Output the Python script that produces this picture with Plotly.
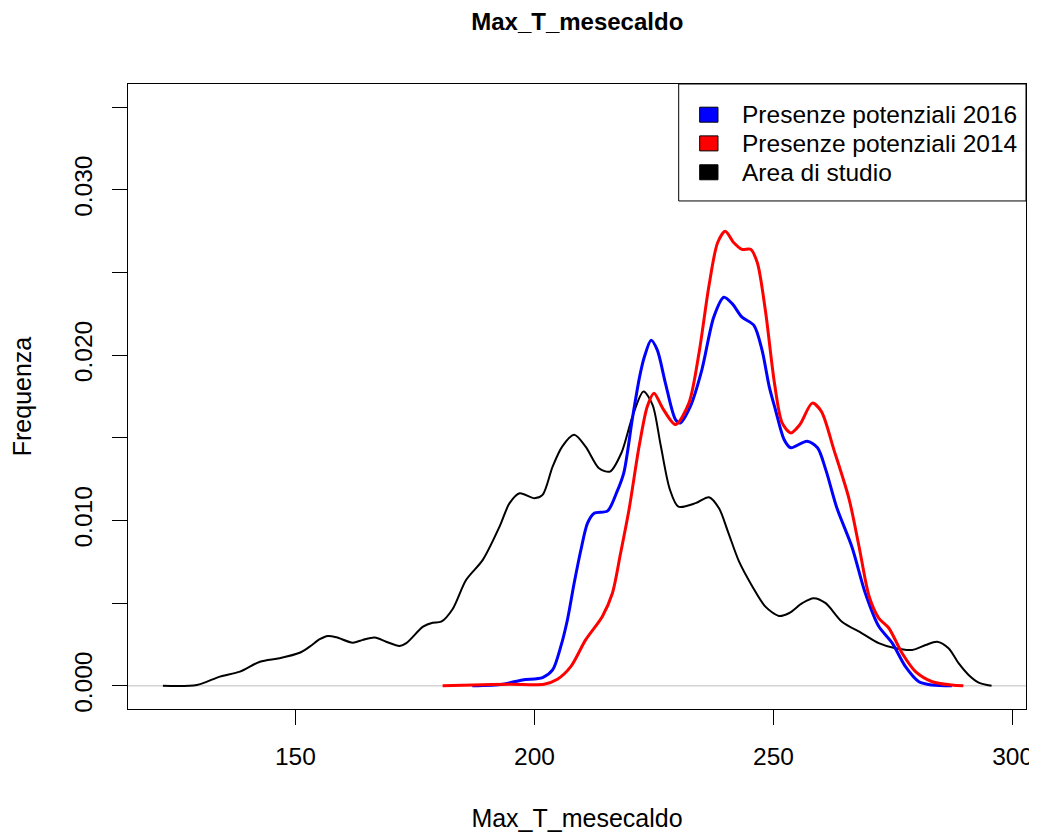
import plotly.graph_objects as go

# ---------------- data ----------------
area_x = [122.3, 129.4, 134.2, 138.4, 142.6, 146.7, 150.9, 153.0, 155.1, 156.8, 158.6, 162.0,
          164.1, 166.6, 169.0, 171.8, 173.2, 176.7, 178.7, 180.5, 182.9, 185.7, 189.2, 192.7,
          194.8, 196.9, 200.0, 201.7, 203.8, 205.8, 208.3, 210.7, 213.5, 215.8, 218.2, 220.5,
          222.8, 224.7, 226.4, 228.3, 230.1, 233.7, 236.5, 238.6, 240.5, 242.8, 245.6, 248.3,
          251.1, 253.2, 256.0, 258.4, 260.9, 264.3, 268.5, 272.0, 275.5, 279.0, 281.8, 284.2,
          286.6, 288.7, 290.8, 292.9, 295.6]
area_y = [0.0, 0.00005, 0.00056, 0.00086, 0.00146, 0.00167, 0.0020, 0.00237, 0.00282, 0.00302,
          0.00294, 0.00261, 0.00278, 0.00292, 0.00267, 0.00241, 0.00258, 0.00358, 0.00382, 0.00388,
          0.00465, 0.0064, 0.00762, 0.00963, 0.01105, 0.01165, 0.01135, 0.01155, 0.01326, 0.01447,
          0.01518, 0.01447, 0.01316, 0.01296, 0.0141, 0.01629, 0.0178, 0.0170, 0.01455, 0.0119,
          0.01084, 0.01105, 0.01141, 0.01074, 0.0093, 0.00751, 0.0060, 0.00479, 0.00423, 0.00439,
          0.0050, 0.0053, 0.0050, 0.00388, 0.00318, 0.00258, 0.00227, 0.00217, 0.00247, 0.00267,
          0.00227, 0.00137, 0.00066, 0.0002, 0.0]

p2016_x = [187.0, 193.4, 197.5, 201.7, 203.8, 205.5, 206.9, 208.3, 209.7, 211.1, 212.5, 215.3,
           217.2, 218.7, 220.5, 222.0, 223.0, 224.4, 225.7, 227.4, 229.5, 230.5, 232.6, 235.0,
           237.5, 239.6, 241.4, 243.4, 245.9, 247.6, 249.1, 250.4, 252.2, 253.6, 257.0, 259.2,
           261.0, 263.2, 266.4, 269.2, 272.0, 274.8, 277.6, 280.4, 283.2, 287.3]
p2016_y = [0.0, 0.0001, 0.00036, 0.0005, 0.00096, 0.00237, 0.0040, 0.0062, 0.0082, 0.00984,
           0.01044, 0.01058, 0.0117, 0.0129, 0.0162, 0.0187, 0.0199, 0.0209, 0.0203, 0.0183,
           0.0161, 0.0159, 0.0169, 0.0191, 0.0223, 0.0235, 0.0231, 0.0223, 0.0218, 0.0203,
           0.0181, 0.0167, 0.0149, 0.0144, 0.0148, 0.0144, 0.0130, 0.0108, 0.0084, 0.0056,
           0.0036, 0.0026, 0.00116, 0.00025, 0.00005, 0.0]

p2014_x = [180.8, 187.1, 195.0, 202.0, 204.8, 207.6, 210.7, 214.2, 216.3, 218.0, 219.8, 221.9,
           223.6, 225.0, 226.8, 229.5, 232.3, 234.4, 236.5, 238.3, 239.9, 241.7, 243.4, 245.2,
           246.6, 248.3, 250.2, 251.8, 253.6, 255.5, 258.1, 260.0, 262.6, 265.8, 267.9, 270.0,
           272.0, 274.1, 276.9, 279.7, 283.2, 287.3, 289.7]
p2014_y = [0.0, 0.00005, 0.0001, 0.0001, 0.0004, 0.00116, 0.00278, 0.0042, 0.0056, 0.0080,
           0.0107, 0.0145, 0.0169, 0.0177, 0.0168, 0.0158, 0.0171, 0.0201, 0.0242, 0.0268,
           0.0275, 0.0268, 0.0264, 0.0264, 0.0256, 0.0227, 0.0183, 0.0159, 0.0153, 0.0158,
           0.0171, 0.0166, 0.0143, 0.0113, 0.0084, 0.0054, 0.0041, 0.0035, 0.00197, 0.00086,
           0.00025, 0.00005, 0.0]

x_ticks = [150, 200, 250, 300]
y_ticks = [0.0, 0.005, 0.010, 0.015, 0.020, 0.025, 0.030, 0.035]
y_tick_text = ["0.000", "", "0.010", "", "0.020", "", "0.030", ""]

legend_labels = ["Presenze potenziali 2016", "Presenze potenziali 2014", "Area di studio"]
legend_colors = ["#0000FF", "#FF0000", "#000000"]

FONT = "Liberation Sans, Arial, sans-serif"

# page offset (default body margin of the html page)
OFF = 8
FIG_W, FIG_H = 1037 - OFF, 832 - OFF

# plot-area edges in window pixels
L, R_, T, B = 128.0, 1026.5, 83.5, 708.7
W, H = R_ - L, B - T

# ---------------- figure ----------------
fig = go.Figure()
fig.add_trace(go.Scatter(x=area_x, y=area_y, mode="lines", name=legend_labels[2],
                         line=dict(color="#000000", width=2, shape="spline", smoothing=0.8),
                         showlegend=False))
fig.add_trace(go.Scatter(x=p2016_x, y=p2016_y, mode="lines", name=legend_labels[0],
                         line=dict(color="#0000FF", width=3, shape="spline", smoothing=0.8),
                         showlegend=False))
fig.add_trace(go.Scatter(x=p2014_x, y=p2014_y, mode="lines", name=legend_labels[1],
                         line=dict(color="#FF0000", width=3, shape="spline", smoothing=0.8),
                         showlegend=False))

# zero line
fig.add_shape(type="line", xref="paper", yref="y", x0=0, x1=1, y0=0, y1=0,
              line=dict(color="#BEBEBE", width=1), layer="below")


def px(xp):
    return (xp - L) / W


def py(yp):
    return (B - yp) / H


# manual legend (R style filled boxes)
fig.add_shape(type="rect", xref="paper", yref="paper",
              x0=px(679), x1=1.0, y0=py(200.5), y1=1.0,
              line=dict(color="#000000", width=1), fillcolor="white", layer="below")
row_centers = [114.2, 142.9, 171.8]
for lab, col, yc in zip(legend_labels, legend_colors, row_centers):
    fig.add_shape(type="rect", xref="paper", yref="paper",
                  x0=px(700), x1=px(718.3), y0=py(yc + 7.5), y1=py(yc - 7.5),
                  line=dict(color="#000000", width=1), fillcolor=col)
    fig.add_annotation(xref="paper", yref="paper", x=px(740), y=py(yc),
                       xanchor="left", yanchor="middle", text=lab, showarrow=False,
                       font=dict(family=FONT, size=24.5, color="#000000"))

fig.update_layout(
    width=FIG_W, height=FIG_H,
    margin=dict(l=L - OFF, r=FIG_W + OFF - R_, t=T - OFF, b=FIG_H + OFF - B, autoexpand=False),
    paper_bgcolor="white", plot_bgcolor="white",
    font=dict(family=FONT, size=24.5, color="#000000"),
    title=dict(text="<b>Max_T_mesecaldo</b>", x=(L + W / 2 - OFF) / FIG_W, xanchor="center",
               y=1 - (22 - OFF) / FIG_H, yanchor="middle", yref="container",
               font=dict(family=FONT, size=24, color="#000000")),
    xaxis=dict(range=[115.0, 302.8], tickvals=x_ticks, ticks="outside", ticklen=15,
               tickwidth=1, tickcolor="#000000", showgrid=False, zeroline=False,
               showline=True, linecolor="#000000", linewidth=1, mirror=True,
               ticklabelstandoff=11,
               title=dict(text="Max_T_mesecaldo", standoff=42,
                          font=dict(family=FONT, size=25, color="#000000"))),
    yaxis=dict(range=[-0.0014, 0.0364], tickvals=y_ticks, ticktext=y_tick_text,
               tickangle=-90, ticks="outside", ticklen=15, tickwidth=1,
               tickcolor="#000000", showgrid=False, zeroline=False,
               showline=True, linecolor="#000000", linewidth=1, mirror=True,
               ticklabelstandoff=10,
               title=dict(text="Frequenza", standoff=32,
                          font=dict(family=FONT, size=25, color="#000000"))),
)

fig.write_html("out.html")
